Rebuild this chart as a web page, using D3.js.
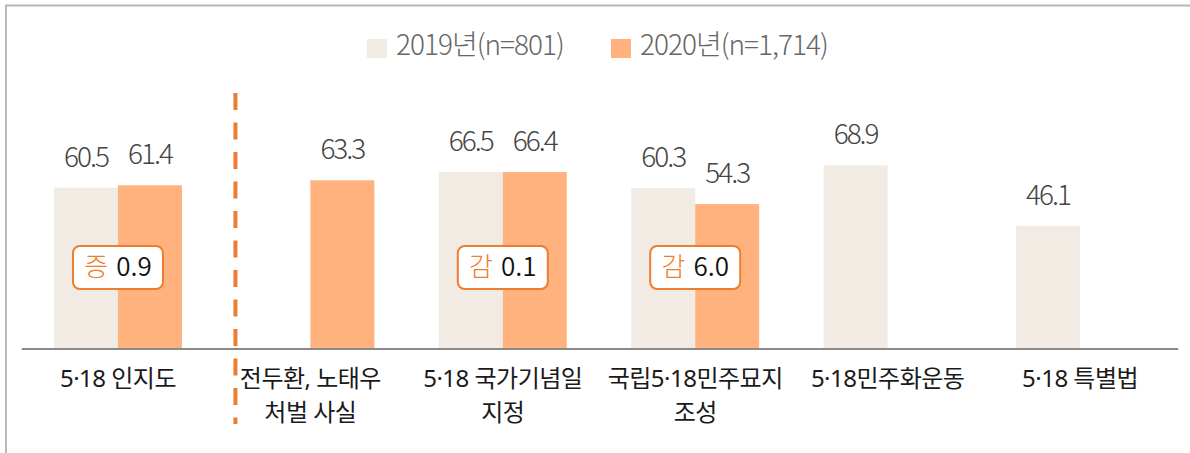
<!DOCTYPE html>
<html>
<head>
<meta charset="utf-8">
<script src="https://cdn.jsdelivr.net/npm/d3@7"></script>
<style>
	body { margin: 0; background: #fff; }
	svg { display: block; font-family: 'Noto Sans CJK KR', 'Noto Sans', sans-serif; }
	.cat { font-family: 'Noto Sans', 'Noto Sans CJK KR', sans-serif; }
</style>
</head>
<body>
<svg id="chart" width="1190" height="453"></svg>
<script>
const categories = [
	['5·18 인지도'],
	['전두환, 노태우', '처벌 사실'],
	['5·18 국가기념일', '지정'],
	['국립5·18민주묘지', '조성'],
	['5·18민주화운동'],
	['5·18 특별법'],
]
const series = ['2019년(n=801)', '2020년(n=1,714)']
const values2019 = [60.5, null, 66.5, 60.3, 68.9, 46.1]
const values2020 = [61.4, 63.3, 66.4, 54.3, null, null]
const changeWord = ['증', null, '감', '감', null, null]
const changeValue = ['0.9', null, '0.1', '6.0', null, null]

;((d3) => {
	const colors = ['#f1ebe4', '#ffb27d']
	const orange = '#ed7d31'
	const svg = d3.select('#chart')
	const keys = categories.map((c) => c.join(' '))
	const baseline = 348

	// frame (top + left edges only visible)
	svg.append('path')
		.attr('d', 'M6,453V5.5H1190')
		.attr('fill', 'none').attr('stroke', '#b8b8b8').attr('stroke-width', 2)

	const x0 = d3.scaleBand().domain(keys).range([21.75, 1176.25])
		.paddingInner(0.335).paddingOuter(0.1675)
	const x1 = d3.scaleBand().domain(series).range([0, x0.bandwidth()])
	const y = d3.scaleLinear().domain([0, 100]).range([baseline, baseline - 265])

	const rows = keys.map((k, i) => ({
		key: k,
		lines: categories[i],
		bars: [values2019[i], values2020[i]].map((v, j) => ({ s: series[j], v, c: colors[j] })).filter((d) => d.v !== null),
		word: changeWord[i],
		diff: changeValue[i],
	}))

	const gGroups = svg.append('g').selectAll('g')
		.data(rows)
		.enter()
		.append('g')
		.attr('transform', (d) => `translate(${x0(d.key)},0)`)

	gGroups.selectAll('rect')
		.data((d) => d.bars)
		.enter()
		.append('rect')
		.attr('x', (d) => x1(d.s))
		.attr('y', (d) => y(d.v))
		.attr('width', x1.bandwidth())
		.attr('height', (d) => baseline - y(d.v))
		.attr('fill', (d) => d.c)

	gGroups.selectAll('text.val')
		.data((d) => d.bars)
		.enter()
		.append('text')
		.attr('class', 'val')
		.attr('x', (d) => x1(d.s) + x1.bandwidth() / 2)
		.attr('y', (d) => y(d.v) - 21)
		.attr('text-anchor', 'middle')
		.attr('font-size', 28)
		.attr('font-weight', 300)
		.attr('letter-spacing', -2)
		.attr('fill', '#444')
		.text((d) => d.v.toFixed(1))

	// axis line
	svg.append('line')
		.attr('x1', x0.range()[0]).attr('x2', x0.range()[1] + 2)
		.attr('y1', baseline + 1).attr('y2', baseline + 1)
		.attr('stroke', '#8a8a8a').attr('stroke-width', 2)

	// category labels
	const labels = svg.append('g').selectAll('text')
		.data(rows)
		.enter()
		.append('text')
		.attr('class', 'cat')
		.attr('text-anchor', 'middle')
		.attr('font-size', 24)
		.attr('letter-spacing', -0.5)
		.attr('fill', '#1a1a1a')
		.attr('transform', (d) => `translate(${x0(d.key) + x0.bandwidth() / 2},387)`)

	labels.selectAll('tspan')
		.data((d) => d.lines)
		.enter()
		.append('tspan')
		.attr('x', 0)
		.attr('y', (_, i) => i * 34)
		.text((d) => d)

	// change boxes
	const boxes = svg.append('g').selectAll('g')
		.data(rows.filter((d) => d.word))
		.enter()
		.append('g')
		.attr('transform', (d) => `translate(${x0(d.key) + x0.bandwidth() / 2},267.5)`)

	boxes.append('rect')
		.attr('x', -45).attr('y', -21.5)
		.attr('width', 90).attr('height', 43)
		.attr('rx', 7)
		.attr('fill', '#fff').attr('stroke', orange).attr('stroke-width', 2)

	const boxText = boxes.append('text')
		.attr('text-anchor', 'middle')
		.attr('y', 8)
		.attr('font-size', 26)
		.attr('font-weight', 350)
	boxText.append('tspan').attr('fill', orange).attr('font-weight', 300).text((d) => d.word)
	boxText.append('tspan').attr('fill', '#111').attr('dx', 8).text((d) => d.diff)

	// divider between first and second category
	const dashX = x0(keys[1]) - (x0.step() - x0.bandwidth()) * 0.17
	svg.append('line')
		.attr('x1', dashX).attr('x2', dashX)
		.attr('y1', 93).attr('y2', 424)
		.attr('stroke', orange).attr('stroke-width', 4)
		.attr('stroke-dasharray', '17 12.5')

	// legend
	const legend = svg.append('g').selectAll('g')
		.data(series)
		.enter()
		.append('g')
		.attr('transform', (_, i) => `translate(${367 + i * 244},39)`)

	legend.append('rect')
		.attr('width', 20).attr('height', 19)
		.attr('fill', (_, i) => colors[i])

	legend.append('text')
		.attr('x', 29).attr('y', 16)
		.attr('font-size', 28)
		.attr('font-weight', 300)
		.attr('letter-spacing', -1)
		.attr('fill', '#666')
		.text((d) => d)
})(d3)
</script>
</body>
</html>
